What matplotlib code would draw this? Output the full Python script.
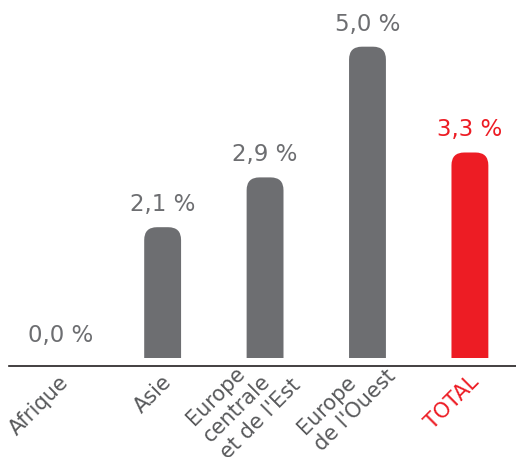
import matplotlib
matplotlib.use("Agg")
import matplotlib.pyplot as plt
from matplotlib.patches import FancyBboxPatch, Rectangle

# data
regions = ["Afrique", "Asie", "Europe\ncentrale\net de l'Est", "Europe\nde l'Ouest", "TOTAL"]
values = [0.0, 2.1, 2.9, 5.0, 3.3]
labels = ["0,0 %", "2,1 %", "2,9 %", "5,0 %", "3,3 %"]

gray = "#6d6e71"
red = "#ed1c24"
colors = [gray, gray, gray, gray, red]
text_colors = ["#58595b", "#58595b", "#58595b", "#58595b", red]

plt.rcParams['font.family'] = ['DejaVu Sans']

fig = plt.figure(figsize=(5.16, 4.57), dpi=100)
ax = fig.add_axes([9 / 516, 91 / 457, 507 / 516, 366 / 457])
ax.set_xlim(-0.5, 4.45)
ax.set_ylim(-0.13, 5.75)

# pixel -> data scale, used to keep the rounded tops circular
px_x = 507 / 4.95
px_y = 366 / 5.88
aspect = px_x / px_y
width = 0.36
r = 0.125

for i, (v, c) in enumerate(zip(values, colors)):
    if v > 0:
        clip = Rectangle((i - width, 0), 2 * width, v + 1, transform=ax.transData)
        bar = FancyBboxPatch((i - width / 2, -1), width, v + 1,
                             boxstyle="round,pad=0,rounding_size=%f" % r,
                             mutation_aspect=aspect, fc=c, ec="none")
        ax.add_patch(bar)
        bar.set_clip_path(clip)
    ax.annotate(labels[i], (i, v), xytext=(0, 8), textcoords="offset points",
                ha="center", va="bottom", fontsize=16.5, color=c)

for s in ["top", "right", "left"]:
    ax.spines[s].set_visible(False)
ax.spines["bottom"].set_color("#231f20")
ax.spines["bottom"].set_linewidth(1.2)
ax.set_yticks([])
ax.set_xticks([])

# rotated category labels under the axis line, one text per line
# (along / across are pixel offsets in the 45 degree text frame)
k = 0.72 / 2 ** 0.5
for i, (name, c) in enumerate(zip(regions, text_colors)):
    lines = name.split("\n")
    n = len(lines)
    for j, line in enumerate(lines):
        if n == 1:
            along, across, ha = -5, 19, "right"
        else:
            along, across, ha = -93, 16.5 + (j - (n - 1) / 2) * 24, "left"
        ax.annotate(line, (i, -0.13),
                    xytext=((along + across) * k, -(across - along) * k),
                    textcoords="offset points", rotation=45,
                    rotation_mode="anchor", ha=ha, va="baseline",
                    fontsize=15, color=c, annotation_clip=False)

fig.savefig("out.png", dpi=100)
